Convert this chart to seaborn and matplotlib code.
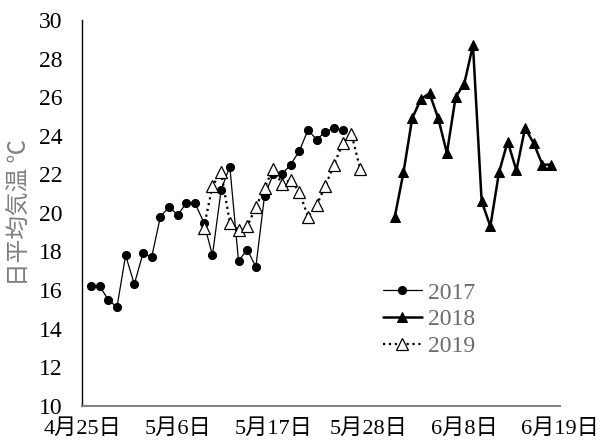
import matplotlib
matplotlib.use("Agg")
import matplotlib.pyplot as plt
import pandas as pd
import seaborn as sns

# Daily mean air temperature (°C), placed on a common calendar year
year_labels = ["2017", "2018", "2019"]
start_2017 = "2000-04-26"
temp_2017 = [16.2, 16.2, 15.5, 15.1, 17.8, 16.3, 17.9, 17.7, 19.8, 20.3,
             19.9, 20.5, 20.5, 19.5, 17.8, 21.2, 22.4, 17.5, 18.1, 17.2,
             20.9, 22.0, 22.0, 22.5, 23.2, 24.3, 23.8, 24.2, 24.4, 24.3]
start_2018 = "2000-05-31"
temp_2018 = [19.8, 22.1, 24.9, 25.9, 26.2, 24.9, 23.1, 26.0, 26.7, 28.7,
             20.6, 19.3, 22.1, 23.7, 22.2, 24.4, 23.6, 22.5, 22.5]
start_2019 = "2000-05-09"
temp_2019 = [19.2, 21.4, 22.1, 19.5, 19.1, 19.3, 20.3, 21.3, 22.3, 21.5,
             21.7, 21.1, 19.8, 20.4, 21.4, 22.5, 23.6, 24.1, 22.3]

tick_dates = ["2000-04-25", "2000-05-06", "2000-05-17",
              "2000-05-28", "2000-06-08", "2000-06-19"]
tick_labels = ["4月25日", "5月6日", "5月17日", "5月28日", "6月8日", "6月19日"]
y_ticks = list(range(10, 31, 2))
y_label = "日平均気温 ℃"


def series_frame(start, values, year):
    dates = pd.date_range(start, periods=len(values), freq="D")
    return pd.DataFrame({"date": dates, "temp": values, "year": year})


df17 = series_frame(start_2017, temp_2017, year_labels[0])
df18 = series_frame(start_2018, temp_2018, year_labels[1])
df19 = series_frame(start_2019, temp_2019, year_labels[2])

sns.set_theme(style="white")
num_fonts = ["Liberation Serif", "Noto Sans CJK JP", "DejaVu Sans"]
plt.rcParams["font.family"] = num_fonts
fs = 17

fig = plt.figure(figsize=(6.0, 4.47), dpi=100)
ax = fig.add_axes([0.137, 0.0924, 0.796, 0.8628])

sns.lineplot(data=df17, x="date", y="temp", ax=ax, color="black",
             linewidth=0.9, marker="o", markersize=5.8,
             markerfacecolor="black", markeredgecolor="black",
             label=year_labels[0])
sns.lineplot(data=df18, x="date", y="temp", ax=ax, color="black",
             linewidth=1.8, marker="^", markersize=6.5,
             markerfacecolor="black", markeredgecolor="black",
             label=year_labels[1])
sns.lineplot(data=df19, x="date", y="temp", ax=ax, color="black",
             linewidth=1.6, linestyle=":", marker="^", markersize=8,
             markerfacecolor="white", markeredgecolor="black",
             markeredgewidth=0.9, label=year_labels[2])

ax.set_xlim(pd.Timestamp(tick_dates[0]), pd.Timestamp(tick_dates[-1]))
ax.set_ylim(y_ticks[0], y_ticks[-1])
ax.set_xticks([pd.Timestamp(d) for d in tick_dates])
ax.set_xticklabels(tick_labels)
ax.set_yticks(y_ticks)

ax.tick_params(axis="both", direction="in", length=5, width=1,
               colors="black", labelsize=fs)
ax.tick_params(axis="y", pad=14)
ax.tick_params(axis="x", pad=10, color="#404040", labelsize=16)
for lab in ax.get_xticklabels() + ax.get_yticklabels():
    lab.set_family(num_fonts)

ax.set_xlabel("")
ax.set_ylabel(y_label, fontsize=fs, color="#7f7f7f",
              family=["Noto Sans CJK JP", "DejaVu Sans"], labelpad=6)

for side in ("top", "right"):
    ax.spines[side].set_visible(False)
ax.spines["left"].set_color("black")
ax.spines["left"].set_linewidth(1.0)
ax.spines["bottom"].set_color("#808080")
ax.spines["bottom"].set_linewidth(1.4)

leg = ax.legend(loc="upper left", bbox_to_anchor=(383 / 600, 1 - 282 / 447),
                bbox_transform=fig.transFigure, frameon=False, fontsize=fs,
                handlelength=1.65, handletextpad=0.25, labelspacing=0.22,
                borderpad=0, borderaxespad=0)
for t in leg.get_texts():
    t.set_color("#6b6b6b")
    t.set_family(num_fonts)

fig.savefig("out.png", dpi=100, facecolor="white")
